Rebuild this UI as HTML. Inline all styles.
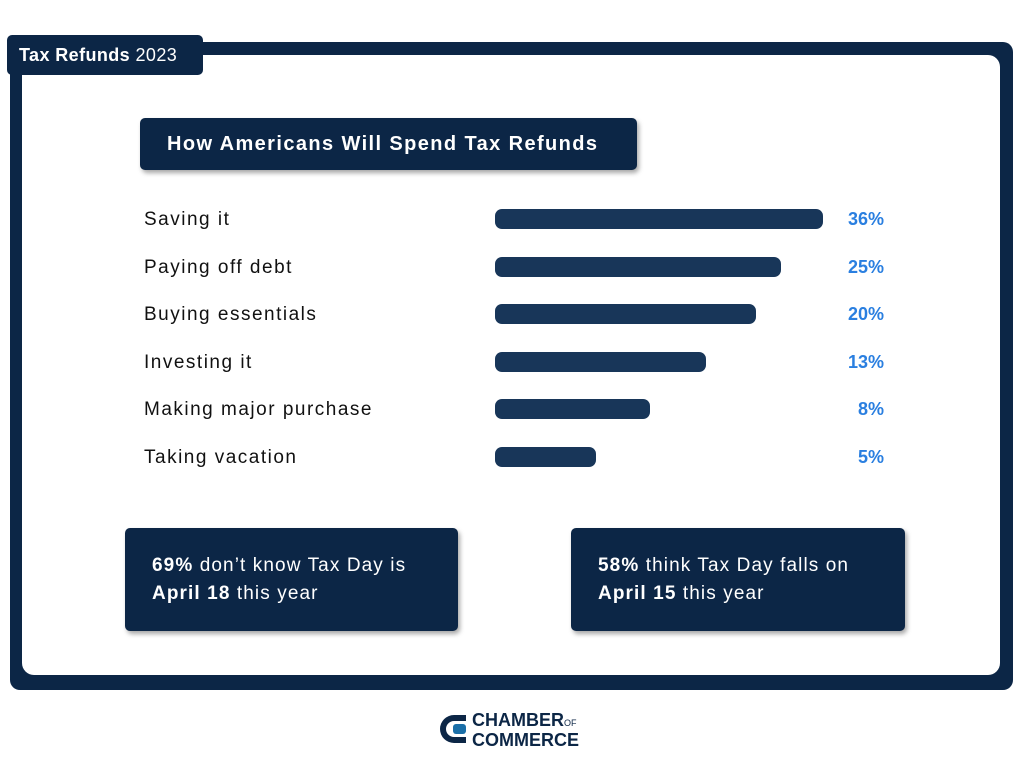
<!DOCTYPE html>
<html><head><meta charset="utf-8"><style>
body{margin:0;width:1024px;height:768px;background:#fff;position:relative;font-family:"Liberation Sans",sans-serif;overflow:hidden}
.abs{position:absolute}
#frame{left:10px;top:42px;width:1003px;height:648px;background:#0c2646;border-radius:10px}
#inner{left:22px;top:55px;width:978px;height:620px;background:#fff;border-radius:12px}
#tag{left:7px;top:35px;width:196px;height:40px;background:#0c2646;border-radius:5px;color:#fff;font-size:18px;line-height:40px;padding-left:12px;box-sizing:border-box;letter-spacing:0.4px}
#title{left:140px;top:118px;width:497px;height:52px;background:#0c2646;border-radius:5px;color:#fff;font-weight:bold;font-size:20px;line-height:52px;padding-left:27px;box-sizing:border-box;box-shadow:2px 3px 5px rgba(0,0,0,.35);letter-spacing:1.4px}
.stat{top:528px;height:103px;background:#0c2646;border-radius:5px;color:#fff;font-size:19px;line-height:28px;padding:24px 0 0 27px;box-sizing:border-box;box-shadow:2px 3px 5px rgba(0,0,0,.35);letter-spacing:1.1px}
.lbl{left:144px;font-size:19px;color:#111;letter-spacing:1.5px}
.bar{left:495px;height:20px;background:#183659;border-radius:7px}
.pct{right:140px;font-size:18px;font-weight:bold;color:#2a7fe0;text-align:right}
</style></head><body>
<div class="abs" id="frame"></div>
<div class="abs" id="inner"></div>
<div class="abs" id="tag"><b>Tax Refunds</b> 2023</div>
<div class="abs" id="title">How Americans Will Spend Tax Refunds</div>
<div id="chart"></div>
<div class="abs stat" style="left:125px;width:333px"><b>69%</b> don’t know Tax Day is<br><b>April 18</b> this year</div>
<div class="abs stat" style="left:571px;width:334px"><b>58%</b> think Tax Day falls on<br><b>April 15</b> this year</div>
<div class="abs" style="left:440px;top:712px;width:30px;height:34px">
<svg width="30" height="34"><path d="M26 3 H14 A12 12 0 0 0 14 31 H26 V25 H14 A6 6 0 0 1 14 9 H26Z" fill="#0c2646"/><rect x="13" y="12" width="13" height="10" rx="3" fill="#1a6fa8"/></svg></div>
<div class="abs" style="left:472px;top:712px;font-weight:bold;font-size:18px;line-height:17px;color:#0c2646">CHAMBER<span style="font-size:9px;font-weight:normal">OF</span><br>COMMERCE</div>
<script>
const categories=["Saving it","Paying off debt","Buying essentials","Investing it","Making major purchase","Taking vacation"];
const values=[36,25,20,13,8,5];
const labels=["36%","25%","20%","13%","8%","5%"];
function xw(v){return Math.max(10,-84+115*Math.log(v));}
function yRow(i){return 208+i*47.6;}
const c=document.getElementById('chart');
categories.forEach((cat,i)=>{
 const l=document.createElement('div');l.className='abs lbl';l.style.top=(yRow(i)+1)+'px';l.textContent=cat;
 
 c.appendChild(l);
 const b=document.createElement('div');b.className='abs bar';b.style.top=(yRow(i)+1)+'px';b.style.width=xw(values[i])+'px';
 
 c.appendChild(b);
 const p=document.createElement('div');p.className='abs pct';p.style.top=(yRow(i)+1)+'px';p.textContent=labels[i];
 
 c.appendChild(p);
});
</script>
</body></html>
